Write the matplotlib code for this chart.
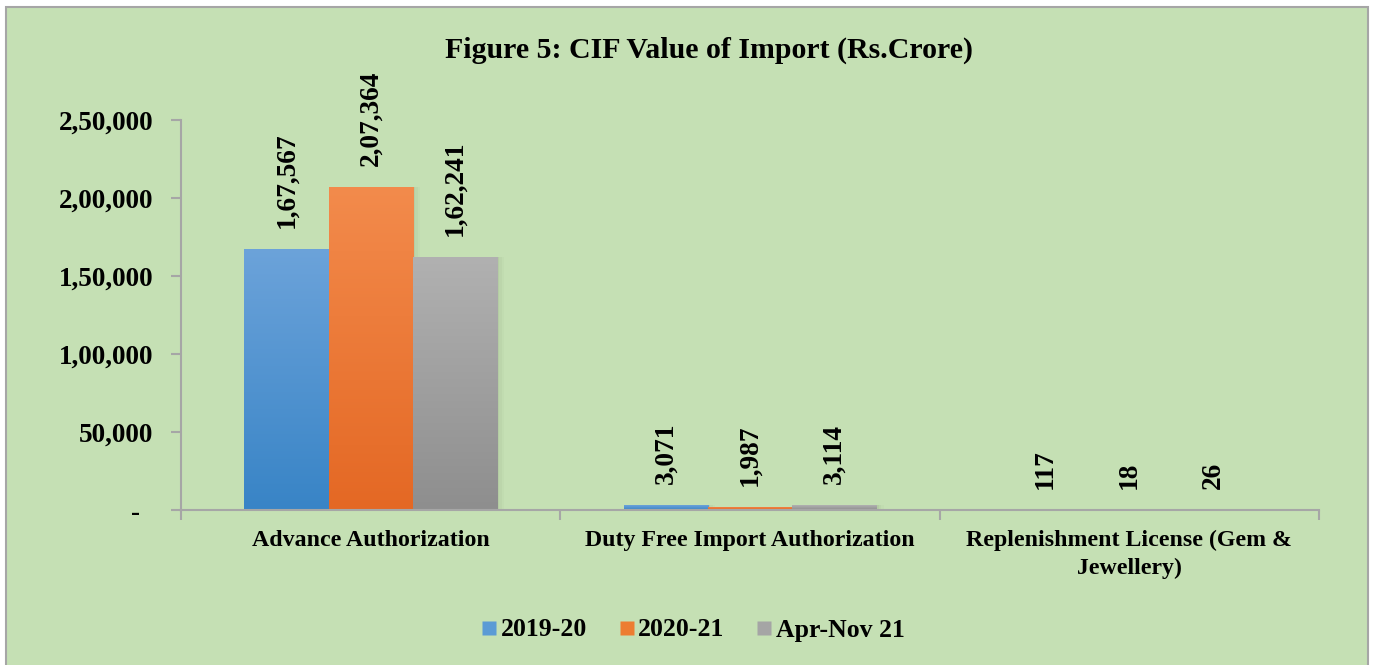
import numpy as np
import matplotlib
matplotlib.use("Agg")
import matplotlib.pyplot as plt
from matplotlib.patches import Rectangle
from matplotlib.lines import Line2D
from matplotlib.colors import LinearSegmentedColormap

# ---------------- data ----------------
categories = ["Advance Authorization", "Duty Free Import Authorization",
              "Replenishment License (Gem &\nJewellery)"]
series_names = ["2019-20", "2020-21", "Apr-Nov 21"]
values_2019_20 = [167567, 3071, 117]
values_2020_21 = [207364, 1987, 18]
values_apr_nov21 = [162241, 3114, 26]
ytick_values = [0, 50000, 100000, 150000, 200000, 250000]
ytick_labels = ["-  ", "50,000", "1,00,000", "1,50,000", "2,00,000", "2,50,000"]
title = "Figure 5: CIF Value of Import (Rs.Crore)"

series = [values_2019_20, values_2020_21, values_apr_nov21]
grad_top = ["#6CA3DA", "#F38B4C", "#B1B1B1"]
grad_bot = ["#3884C6", "#E46824", "#8E8E8E"]
legend_cols = ["#5B9BD5", "#ED7D31", "#A5A5A5"]


def indian(n):
    s = str(int(n))
    if len(s) <= 3:
        return s
    head, tail = s[:-3], s[-3:]
    parts = []
    while len(head) > 2:
        parts.insert(0, head[-2:])
        head = head[:-2]
    if head:
        parts.insert(0, head)
    return ",".join(parts) + "," + tail


FONT = "Liberation Serif"
W, H = 1378, 665
fig = plt.figure(figsize=(W / 100, H / 100), dpi=100, facecolor="white")

# green panel with grey border
panel = Rectangle((6 / W, -0.01), (1368 - 6) / W, 1 - 7 / H + 0.01,
                  transform=fig.transFigure, facecolor="#C5E0B4",
                  edgecolor="#A6A6A6", linewidth=1.5, zorder=-10)
fig.patches.append(panel)

ax = fig.add_axes([181 / W, 1 - 510 / H, (1319 - 181) / W, 390 / H])
ax.set_facecolor("none")
ax.set_zorder(1)

n = len(categories)
x = np.arange(n)
bw = 0.222
ax.set_xlim(-0.5, n - 0.5)
ax.set_ylim(0, 250000)

for si, vals in enumerate(series):
    cmap = LinearSegmentedColormap.from_list("g", [grad_bot[si], grad_top[si]])
    for ci, v in enumerate(vals):
        xc = x[ci] + (si - 1) * bw
        x0, x1 = xc - bw / 2, xc + bw / 2
        # soft shadow
        for k, a in enumerate([0.06, 0.04, 0.025]):
            d = (k + 1) * 0.004
            sh = Rectangle((x0 + d * 0.6, -d * 9000), bw + d, v + d * 9000 * 0.3,
                           facecolor="#405030", alpha=a, edgecolor="none", zorder=1)
            ax.add_patch(sh)
        rect = Rectangle((x0, 0), bw, v, facecolor=grad_bot[si], edgecolor="none", zorder=2)
        ax.add_patch(rect)
        grad = np.linspace(0, 1, 256).reshape(-1, 1)
        im = ax.imshow(grad, extent=[x0, x1, 0, v], origin="lower", aspect="auto",
                       cmap=cmap, zorder=3)
        im.set_clip_path(rect)
        ax.annotate(indian(v), xy=(xc, v), xytext=(0, 15), textcoords="offset points",
                    rotation=90, ha="center", va="bottom", fontsize=19.7,
                    fontweight="bold", family=FONT, zorder=5)

ax.set_xlim(-0.5, n - 0.5)
ax.set_ylim(0, 250000)

# axes styling
for s in ["top", "right"]:
    ax.spines[s].set_visible(False)
for s in ["left", "bottom"]:
    ax.spines[s].set_color("#A6A6A6")
    ax.spines[s].set_linewidth(1.5)
    ax.spines[s].set_zorder(4)

ax.set_yticks(ytick_values)
ax.set_yticklabels(ytick_labels, fontsize=19.5, fontweight="bold", family=FONT)
ax.tick_params(axis="y", length=7, width=1.5, color="#A6A6A6", pad=13)

ax.set_xticks(x)
ax.set_xticklabels(categories, fontsize=17.2, fontweight="bold", family=FONT,
                   linespacing=1.42, va="top")
ax.tick_params(axis="x", which="major", length=0, pad=14.5)
ax.set_xticks(np.arange(-0.5, n, 1.0), minor=True)
ax.tick_params(axis="x", which="minor", length=7, width=1.5, color="#A6A6A6")

fig.text(709 / W, 1 - 50 / H, title, ha="center", va="center",
         fontsize=21.5, fontweight="bold", family=FONT)

handles = [Line2D([], [], marker="s", linestyle="none", markersize=10.5,
                  markerfacecolor=c, markeredgecolor="none") for c in legend_cols]
leg = fig.legend(handles, series_names, loc="center", ncol=3,
                 bbox_to_anchor=(693 / W, 1 - 630 / H), frameon=False,
                 prop={"family": FONT, "weight": "bold", "size": 18.5},
                 handlelength=0.6, handletextpad=0.15, columnspacing=1.25)

fig.savefig("out.png", dpi=100, facecolor="white")
